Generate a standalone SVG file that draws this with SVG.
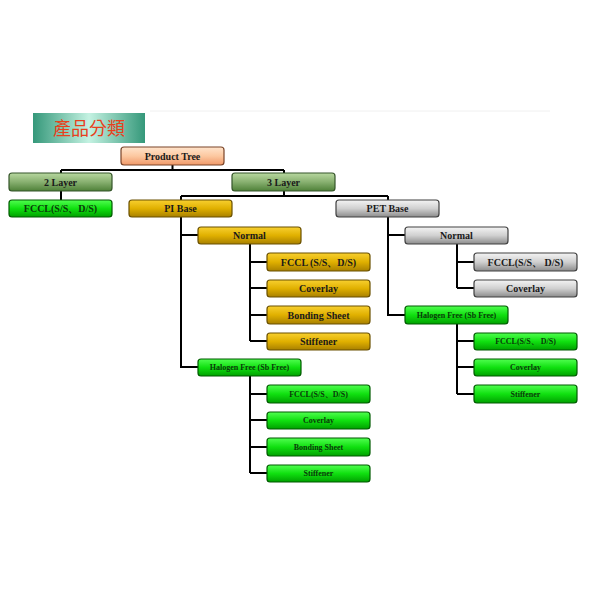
<svg xmlns="http://www.w3.org/2000/svg" width="600" height="600" viewBox="0 0 600 600">
<defs>
<linearGradient id="gGold" x1="0" y1="0" x2="0" y2="1"><stop offset="0" stop-color="#f8d030"/><stop offset="0.5" stop-color="#e0b000"/><stop offset="1" stop-color="#a88000"/></linearGradient>
<linearGradient id="gGray" x1="0" y1="0" x2="0" y2="1"><stop offset="0" stop-color="#f4f4f4"/><stop offset="0.5" stop-color="#d0d0d0"/><stop offset="1" stop-color="#8c8c8c"/></linearGradient>
<linearGradient id="gGreen" x1="0" y1="0" x2="0" y2="1"><stop offset="0" stop-color="#50ff50"/><stop offset="0.5" stop-color="#10e010"/><stop offset="1" stop-color="#00a000"/></linearGradient>
<linearGradient id="gLayer" x1="0" y1="0" x2="0" y2="1"><stop offset="0" stop-color="#b8d8a0"/><stop offset="0.5" stop-color="#88b070"/><stop offset="1" stop-color="#4e8038"/></linearGradient>
<linearGradient id="gPeach" x1="0" y1="0" x2="0" y2="1"><stop offset="0" stop-color="#ffe4cc"/><stop offset="0.5" stop-color="#fcc8a0"/><stop offset="1" stop-color="#f09868"/></linearGradient>
<linearGradient id="gTeal" x1="0" y1="0" x2="1" y2="0"><stop offset="0" stop-color="#35987a"/><stop offset="0.5" stop-color="#c4f2e2"/><stop offset="1" stop-color="#35987a"/></linearGradient>
</defs>
<style>
.box{stroke-width:1.2}
.gold{fill:url(#gGold);stroke:#6a5000}
.gray{fill:url(#gGray);stroke:#404040}
.green{fill:url(#gGreen);stroke:#005a00}
.layer{fill:url(#gLayer);stroke:#35552a}
.peach{fill:url(#gPeach);stroke:#7a4428}
.t{font-family:"Liberation Serif","Times New Roman",serif;font-weight:bold;text-anchor:middle;dominant-baseline:central;fill:#1a1a1a}
.f10{font-size:10px}
.f8{font-size:8px}
.tg{fill:#0a3a0a}
.conn{fill:none;stroke:#000;stroke-width:2}
</style>
<line x1="150" y1="111" x2="550" y2="111" stroke="#f0f0f0" stroke-width="1"/>
<g id="title">
<rect x="33" y="113" width="112" height="30" fill="url(#gTeal)"/>
<text x="89" y="127" font-family="'Noto Sans CJK TC','Noto Sans CJK SC',sans-serif" font-size="18" fill="#e8401c" text-anchor="middle" dominant-baseline="central">產品分類</text>
</g>
<g id="connectors" class="conn">
<path d="M172.5 165V170M61 170H284M61 170V173M284 170V173"/>
<path d="M61 191V200"/>
<path d="M284 191V196M181 196H388M181 196V200M388 196V200"/>
<path d="M181 217V367H198M181 235H198"/>
<path d="M250 244V341M250 262H267M250 288H267M250 315H267M250 341H267"/>
<path d="M250 376V473M250 394H267M250 420H267M250 447H267M250 473H267"/>
<path d="M388 217V315H405M388 235H405"/>
<path d="M457 244V288M457 262H474M457 288H474"/>
<path d="M457 324V394M457 341H474M457 367H474M457 394H474"/>
</g>
<g id="product-tree"><rect class="box peach" x="121" y="147" width="103" height="18" rx="3"/><text class="t f10" x="172.5" y="156">Product Tree</text></g>
<g id="layer2"><rect class="box layer" x="9" y="173" width="103" height="18" rx="3"/><text class="t f10" x="60.5" y="182">2 Layer</text></g>
<g id="layer3"><rect class="box layer" x="232" y="173" width="103" height="18" rx="3"/><text class="t f10" x="283.5" y="182">3 Layer</text></g>
<g id="l2-fccl"><rect class="box green" x="9" y="200" width="103" height="17" rx="3"/><text class="t f10 tg" x="60.5" y="208.5">FCCL(S/S、D/S)</text></g>
<g id="pi-base"><rect class="box gold" x="129" y="200" width="103" height="17" rx="3"/><text class="t f10" x="180.5" y="208.5">PI Base</text></g>
<g id="pet-base"><rect class="box gray" x="336" y="200" width="103" height="17" rx="3"/><text class="t f10" x="387.5" y="208.5">PET Base</text></g>
<g id="pi-normal"><rect class="box gold" x="198" y="227" width="103" height="17" rx="3"/><text class="t f10" x="249.5" y="235.5">Normal</text></g>
<g id="pi-n-fccl"><rect class="box gold" x="267" y="253" width="103" height="18" rx="3"/><text class="t f10" x="318.5" y="262">FCCL (S/S、D/S)</text></g>
<g id="pi-n-coverlay"><rect class="box gold" x="267" y="280" width="103" height="17" rx="3"/><text class="t f10" x="318.5" y="288.5">Coverlay</text></g>
<g id="pi-n-bonding"><rect class="box gold" x="267" y="306" width="103" height="18" rx="3"/><text class="t f10" x="318.5" y="315">Bonding Sheet</text></g>
<g id="pi-n-stiffener"><rect class="box gold" x="267" y="333" width="103" height="17" rx="3"/><text class="t f10" x="318.5" y="341.5">Stiffener</text></g>
<g id="pi-halogen"><rect class="box green" x="198" y="359" width="103" height="17" rx="3"/><text class="t f8 tg" x="249.5" y="367.5">Halogen Free (Sb Free)</text></g>
<g id="pi-h-fccl"><rect class="box green" x="267" y="385" width="103" height="18" rx="3"/><text class="t f8 tg" x="318.5" y="394">FCCL(S/S、D/S)</text></g>
<g id="pi-h-coverlay"><rect class="box green" x="267" y="412" width="103" height="17" rx="3"/><text class="t f8 tg" x="318.5" y="420.5">Coverlay</text></g>
<g id="pi-h-bonding"><rect class="box green" x="267" y="438" width="103" height="18" rx="3"/><text class="t f8 tg" x="318.5" y="447">Bonding Sheet</text></g>
<g id="pi-h-stiffener"><rect class="box green" x="267" y="465" width="103" height="17" rx="3"/><text class="t f8 tg" x="318.5" y="473.5">Stiffener</text></g>
<g id="pet-normal"><rect class="box gray" x="405" y="227" width="103" height="17" rx="3"/><text class="t f10" x="456.5" y="235.5">Normal</text></g>
<g id="pet-n-fccl"><rect class="box gray" x="474" y="253" width="103" height="18" rx="3"/><text class="t f10" x="525.5" y="262">FCCL(S/S、 D/S)</text></g>
<g id="pet-n-coverlay"><rect class="box gray" x="474" y="280" width="103" height="17" rx="3"/><text class="t f10" x="525.5" y="288.5">Coverlay</text></g>
<g id="pet-halogen"><rect class="box green" x="405" y="306" width="103" height="18" rx="3"/><text class="t f8 tg" x="456.5" y="315">Halogen Free (Sb Free)</text></g>
<g id="pet-h-fccl"><rect class="box green" x="474" y="333" width="103" height="17" rx="3"/><text class="t f8 tg" x="525.5" y="341.5">FCCL(S/S、 D/S)</text></g>
<g id="pet-h-coverlay"><rect class="box green" x="474" y="359" width="103" height="17" rx="3"/><text class="t f8 tg" x="525.5" y="367.5">Coverlay</text></g>
<g id="pet-h-stiffener"><rect class="box green" x="474" y="385" width="103" height="18" rx="3"/><text class="t f8 tg" x="525.5" y="394">Stiffener</text></g>
</svg>
